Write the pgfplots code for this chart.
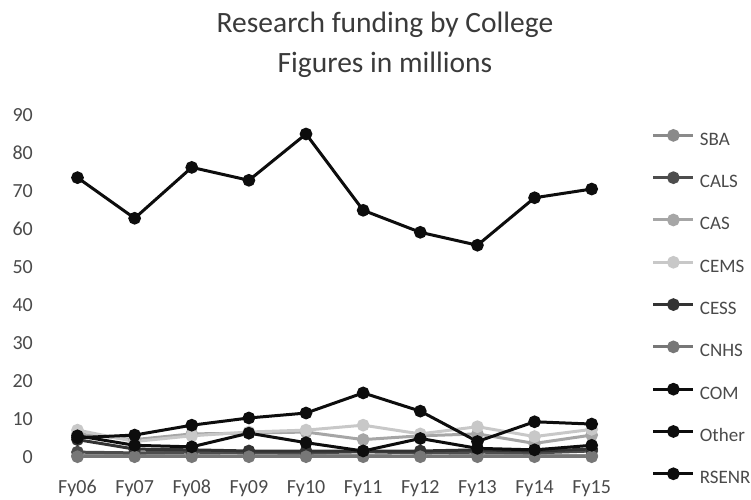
\documentclass[border=0pt]{standalone}
\usepackage{fontspec}
\setmainfont{Carlito}
\usepackage{pgfplots}
\usepackage{pgfplotstable}
\pgfplotsset{compat=1.18}

\definecolor{txt}{HTML}{4A4A4A}
\definecolor{ttl}{HTML}{3A3A3A}
\definecolor{cSBA}{HTML}{8A8A8A}
\definecolor{cCALS}{HTML}{4D4D4D}
\definecolor{cCAS}{HTML}{A6A6A6}
\definecolor{cCEMS}{HTML}{C8C8C8}
\definecolor{cCESS}{HTML}{333333}
\definecolor{cCNHS}{HTML}{777777}
\definecolor{cBlk}{HTML}{0D0D0D}

% funding in millions, one row per fiscal year
\pgfplotstableread{
x  SBA  CALS CAS  CEMS CESS CNHS COM  Other RSENR
0  0.3  1.2  6.0  7.0  4.5  0.0  5.0  5.5   73.5
1  0.3  1.0  4.5  4.0  2.0  0.0  5.7  3.0   62.8
2  0.3  1.2  6.0  5.5  1.8  0.0  8.3  2.6   76.2
3  0.2  1.0  6.2  6.5  1.5  0.0  10.2 6.2   72.8
4  0.3  1.0  6.5  7.0  1.5  0.0  11.5 3.7   85.0
5  0.3  1.3  4.5  8.3  1.5  0.0  16.8 1.5   64.9
6  0.2  1.0  5.5  6.0  1.5  0.0  12.0 4.8   59.1
7  0.3  1.2  6.0  7.9  1.8  0.0  4.0  2.2   55.7
8  0.3  1.0  3.5  5.3  1.5  0.0  9.2  1.8   68.2
9  0.3  1.5  5.7  7.2  2.0  0.0  8.6  3.0   70.5
}\funding

\begin{document}
\begin{tikzpicture}
\useasboundingbox (-77.5bp,-43.3bp) rectangle (673.5bp,456.7bp);
\begin{axis}[
    scale only axis,
    width=514.2bp, height=341.7bp,
    xmin=0, xmax=9, ymin=0, ymax=90,
    axis line style={draw=none},
    tick style={draw=none},
    clip=false,
    xtick={0,...,9},
    xticklabels={Fy06,Fy07,Fy08,Fy09,Fy10,Fy11,Fy12,Fy13,Fy14,Fy15},
    ytick={0,10,...,90},
    /pgf/number format/assume math mode=true,
    xticklabel style={anchor=base, inner sep=0pt, yshift=-36.6bp, text=txt, font=\fontsize{20bp}{20bp}\selectfont},
    yticklabel style={anchor=east, inner sep=0pt, xshift=-44.5bp, text=txt, font=\fontsize{20bp}{20bp}\selectfont},
    every axis plot/.append style={line width=3bp, mark=*, mark size=4.8bp},
    legend cell align=left,
    legend style={draw=none, fill=none, at={(1.1167,0.955)}, anchor=north west,
        inner sep=0pt, row sep=23.5bp, text=txt,
        font=\fontsize{19bp}{19bp}\selectfont,
        nodes={inner sep=0pt, text height=14bp, text depth=4bp},
        /tikz/every odd column/.append style={column sep=5bp}},
    legend image code/.code={
        \draw[#1, mark repeat=2, mark phase=2] plot coordinates {(0bp,5bp) (20bp,5bp) (40bp,5bp)};},
]
\addplot[color=cSBA]  table[x=x, y=SBA]   {\funding}; \addlegendentry{SBA}
\addplot[color=cCALS] table[x=x, y=CALS]  {\funding}; \addlegendentry{CALS}
\addplot[color=cCAS]  table[x=x, y=CAS]   {\funding}; \addlegendentry{CAS}
\addplot[color=cCEMS] table[x=x, y=CEMS]  {\funding}; \addlegendentry{CEMS}
\addplot[color=cCESS] table[x=x, y=CESS]  {\funding}; \addlegendentry{CESS}
\addplot[color=cCNHS] table[x=x, y=CNHS]  {\funding}; \addlegendentry{CNHS}
\addplot[color=cBlk]  table[x=x, y=COM]   {\funding}; \addlegendentry{COM}
\addplot[color=cBlk]  table[x=x, y=Other] {\funding}; \addlegendentry{Other}
\addplot[color=cBlk]  table[x=x, y=RSENR] {\funding}; \addlegendentry{RSENR}
\end{axis}
\node[anchor=base, text=ttl, font=\fontsize{29.5bp}{29.5bp}\selectfont] at (307.5bp,423.7bp) {Research funding by College};
\node[anchor=base, text=ttl, font=\fontsize{29.5bp}{29.5bp}\selectfont] at (307.5bp,383.7bp) {Figures in millions};
\end{tikzpicture}
\end{document}
